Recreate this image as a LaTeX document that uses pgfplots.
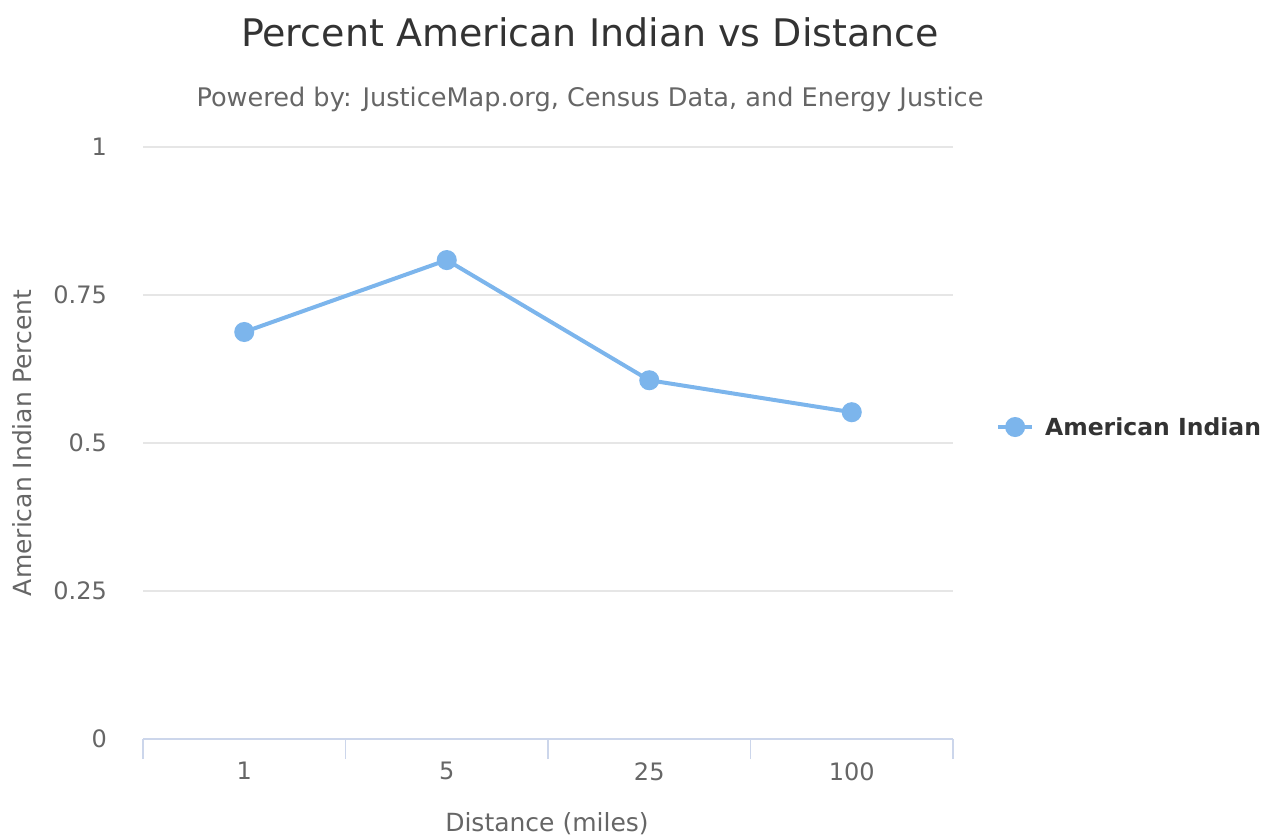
\documentclass[border=0pt]{standalone}
\usepackage{pgfplots}
\pgfplotsset{compat=1.18}
\usepackage{fontspec}
\setmainfont{DejaVu Sans}
\definecolor{series}{HTML}{7CB5EC}
\definecolor{gridc}{HTML}{E6E6E6}
\definecolor{axisc}{HTML}{CCD6EB}
\definecolor{titlec}{HTML}{333333}
\definecolor{labc}{HTML}{666666}
\begin{document}
\begin{tikzpicture}[x=1pt,y=1pt]
\useasboundingbox (0,0) rectangle (1277,836);
\begin{axis}[
  at={(143pt,97pt)}, anchor=south west, scale only axis,
  width=810pt, height=592pt,
  xmin=-0.5, xmax=3.5, ymin=0, ymax=1,
  separate axis lines,
  axis x line*=bottom, axis y line*=left,
  x axis line style={draw=axisc, line width=1.5pt, -},
  y axis line style={draw=none},
  xtick={0,1,2,3}, xticklabels={1,5,25,100},
  major x tick style={draw=none},
  extra x ticks={-0.5,0.5,1.5,2.5,3.5}, extra x tick labels={},
  extra x tick style={major tick length=20pt, tick align=outside,
     major x tick style={draw=axisc, line width=1.5pt}, grid=none},
  ytick={0,0.25,0.5,0.75,1},
  ymajorgrids, grid style={draw=gridc, line width=1.5pt},
  major y tick style={draw=none},
  /pgf/number format/assume math mode=true,
  yticklabel style={font=\fontsize{24}{24}\selectfont, text=labc, anchor=east, inner sep=0pt, xshift=-36pt},
  xticklabel style={font=\fontsize{24}{24}\selectfont, text=labc, anchor=north, inner sep=0pt, yshift=-23pt},
  legend style={at={(1.053,0.527)}, anchor=west, draw=none, fill=none, inner sep=0pt,
     /tikz/column sep=9pt,
     font=\bfseries\fontsize{23.5}{24}\selectfont, text=titlec},
  legend image code/.code={\draw[series, line width=4pt] (0pt,0pt) -- (34pt,0pt); \fill[series] (17pt,0pt) circle (8pt);},
  clip=false,
]
\addplot[series, line width=4pt, mark=*, mark size=8pt, mark options={draw=none, fill=series}]
  coordinates {(0,0.6875) (1,0.809) (2,0.606) (3,0.552)};
\addlegendentry{American Indian}
\end{axis}
\node[anchor=base, text=titlec, font=\fontsize{38}{38}\selectfont] at (590,789) {Percent American Indian vs Distance};
\node[anchor=base, text=labc, font=\fontsize{25.6}{26}\selectfont] at (590,729) {Powered by: JusticeMap.org, Census Data, and Energy Justice};
\node[anchor=base, text=labc, font=\fontsize{25}{25}\selectfont] at (547,5) {Distance (miles)};
\node[rotate=90, text=labc, font=\fontsize{25}{25}\selectfont] at (22,393) {American Indian Percent};
\end{tikzpicture}
\end{document}
